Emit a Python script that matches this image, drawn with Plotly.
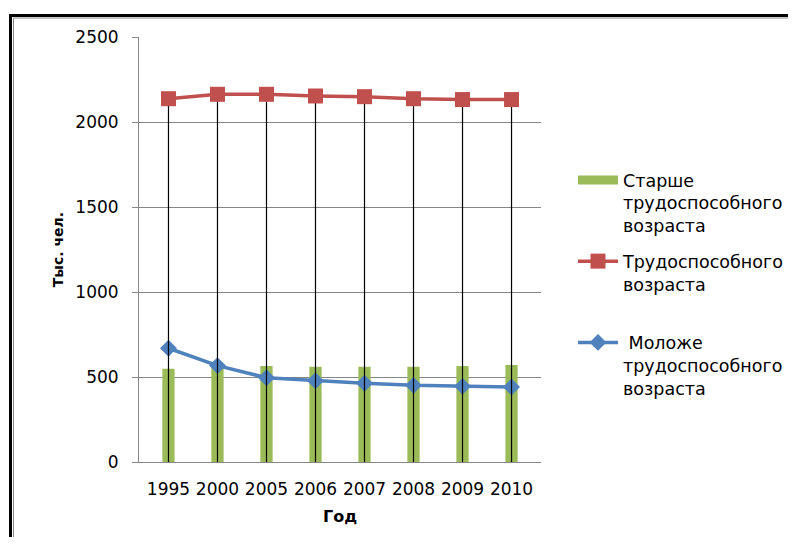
import plotly.graph_objects as go

years = ["1995", "2000", "2005", "2006", "2007", "2008", "2009", "2010"]
older = [549, 562, 565, 560, 560, 560, 565, 571]
working = [2137, 2163, 2163, 2153, 2149, 2137, 2132, 2132]
younger = [669, 567, 496, 478, 463, 451, 445, 441]

y_ticks = [0, 500, 1000, 1500, 2000, 2500]

name_older = "Старше<br>трудоспособного<br>возраста"
name_working = "Трудоспособного<br>возраста<br> "
name_younger = " Моложе<br>трудоспособного<br>возраста"
y_title = "Тыс. чел."
x_title = "Год"

GREEN = "#9BBB59"
RED = "#C0504D"
BLUE = "#4F81BD"
FONT = "DejaVu Sans"

fig = go.Figure()
fig.add_trace(go.Bar(x=years, y=older, name=name_older, marker=dict(color=GREEN, line=dict(width=0)),
                     width=0.25, showlegend=False, legendgroup="older"))
# legend entry for the bar series drawn as a wide block, like the reference
fig.add_trace(go.Scatter(x=[None], y=[None], name=name_older, mode="lines",
                         line=dict(color=GREEN, width=9), legendgroup="older", legendrank=1))
fig.add_trace(go.Scatter(x=years, y=younger, name=name_younger, mode="lines+markers",
                         line=dict(color=BLUE, width=3.5),
                         marker=dict(symbol="diamond", size=13, color=BLUE),
                         legendgroup="younger", legendrank=3))
fig.add_trace(go.Scatter(x=years, y=working, name=name_working, mode="lines+markers",
                         line=dict(color=RED, width=3.5),
                         marker=dict(symbol="square", size=15, color=RED),
                         error_y=dict(type="data", symmetric=False, array=[0] * len(working),
                                      arrayminus=working, color="black", thickness=1.2, width=0),
                         legendgroup="working", legendrank=2))

OFF = 8  # page body margin
W, H = 796 - 2 * OFF, 545 - 2 * OFF
L, T = 139 - OFF, 37 - OFF
pw, ph = 402, 425
R, B = W - L - pw, H - T - ph

def px(x):
    return (x - OFF - L) / pw

def py(y):
    return (T + ph - (y - OFF)) / ph

def cx(x):
    return (x - OFF) / W

def cy(y):
    return 1 - (y - OFF) / H

shapes = [
    dict(type="line", xref="paper", yref="paper", x0=px(10.5), x1=px(10.5), y0=py(14), y1=py(560),
         line=dict(color="black", width=3)),
    dict(type="line", xref="paper", yref="paper", x0=px(9), x1=px(810), y0=py(15.5), y1=py(15.5),
         line=dict(color="black", width=3)),
    dict(type="line", xref="paper", yref="paper", x0=px(13.5), x1=px(13.5), y0=py(18), y1=py(560),
         line=dict(color="#888888", width=1)),
    dict(type="line", xref="paper", yref="paper", x0=px(13.5), x1=px(810), y0=py(18), y1=py(18),
         line=dict(color="#888888", width=1)),
]

fig.update_layout(
    width=W, height=H, autosize=False,
    margin=dict(l=L, r=R, t=T, b=B, pad=0),
    paper_bgcolor="white", plot_bgcolor="white",
    font=dict(family=FONT, size=17, color="#000000"),
    showlegend=True,
    legend=dict(xref="container", yref="container", x=cx(573), y=cy(162),
                xanchor="left", yanchor="top",
                font=dict(family=FONT, size=17.5, color="#000000"), valign="top",
                traceorder="grouped", tracegroupgap=10,
                itemwidth=40, bgcolor="rgba(0,0,0,0)"),
    bargap=0.75,
    shapes=shapes,
)
fig.update_xaxes(type="category", showgrid=False, showline=True, linecolor="#868686", linewidth=1,
                 ticks="", ticklabelstandoff=12,
                 title=dict(text=x_title, font=dict(family=FONT, size=16, weight="bold"), standoff=12))
fig.update_yaxes(range=[0, 2500], tickvals=y_ticks, showgrid=True, gridcolor="#868686", gridwidth=1,
                 showline=True, linecolor="#868686", linewidth=1, ticks="outside", ticklen=6,
                 tickcolor="#868686", zeroline=False, ticklabelstandoff=10,
                 title=dict(text=y_title, font=dict(family=FONT, size=14, weight="bold"), standoff=8))

fig.write_html("out.html")
